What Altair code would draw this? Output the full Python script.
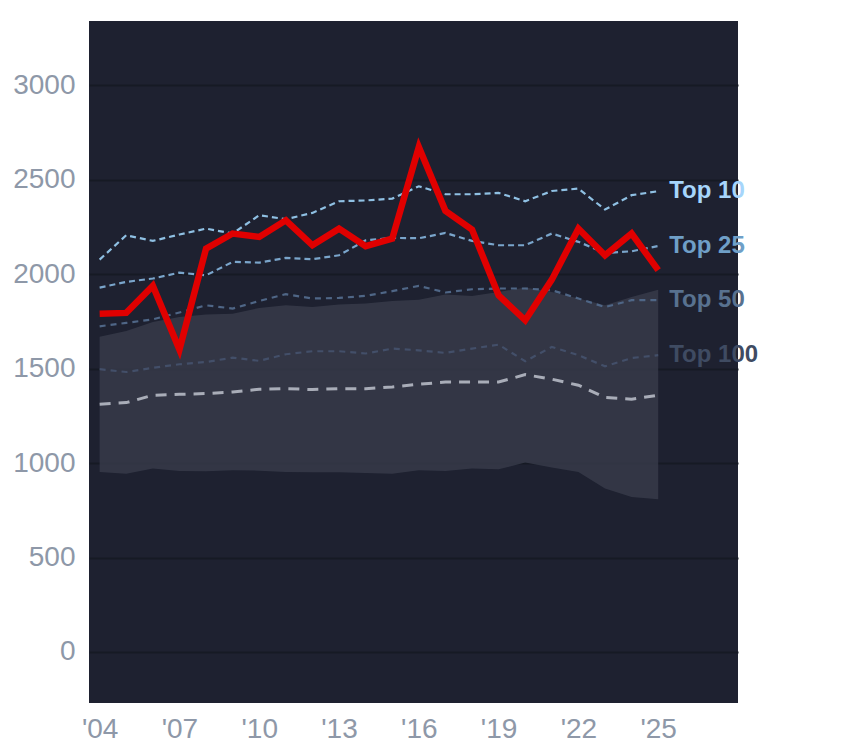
import altair as alt
import pandas as pd

years = list(range(2004, 2026))

team = [1791, 1795, 1938, 1601, 2135, 2215, 2197, 2285, 2153, 2241, 2148, 2188,
        2673, 2335, 2236, 1888, 1756, 1971, 2241, 2100, 2215, 2021]
top10 = [2077, 2206, 2176, 2210, 2241, 2215, 2312, 2291, 2324, 2386, 2390, 2400,
         2465, 2423, 2423, 2430, 2386, 2440, 2453, 2342, 2418, 2439]
top25 = [1929, 1959, 1977, 2008, 1994, 2065, 2061, 2086, 2079, 2100, 2179, 2192,
         2190, 2218, 2176, 2153, 2153, 2215, 2171, 2112, 2121, 2149]
top50 = [1724, 1742, 1761, 1797, 1835, 1818, 1858, 1894, 1871, 1874, 1885, 1910,
         1938, 1903, 1920, 1924, 1924, 1915, 1871, 1826, 1862, 1862]
top100 = [1497, 1482, 1504, 1523, 1535, 1558, 1541, 1576, 1592, 1592, 1580, 1606,
          1597, 1583, 1606, 1627, 1539, 1615, 1571, 1512, 1556, 1571]
median = [1311, 1320, 1359, 1364, 1368, 1376, 1391, 1394, 1389, 1394, 1394, 1403,
          1417, 1429, 1429, 1429, 1468, 1444, 1412, 1347, 1338, 1359]
band_high = [1668, 1699, 1747, 1773, 1786, 1791, 1821, 1835, 1826, 1839, 1844, 1858,
             1865, 1892, 1885, 1906, 1929, 1906, 1871, 1835, 1879, 1918]
band_low = [953, 944, 971, 958, 957, 962, 960, 953, 951, 951, 948, 944,
            962, 958, 971, 967, 1003, 976, 953, 865, 821, 808]

label_names = ["Top 10", "Top 25", "Top 50", "Top 100"]
label_values = [top10[-1], top25[-1], top50[-1], top100[-1]]
label_colors = ["#a6d5fb", "#6f9fc7", "#58718f", "#3f4b62"]
x_ticks = [2004, 2007, 2010, 2013, 2016, 2019, 2022, 2025]
y_ticks = [0, 500, 1000, 1500, 2000, 2500, 3000]

FONT = "Liberation Sans"
AXIS_GREY = "#8e98a8"

df = pd.DataFrame({
    "year": years, "team": team, "top10": top10, "top25": top25,
    "top50": top50, "top100": top100, "median": median,
    "hi": band_high, "lo": band_low,
})
lab = pd.DataFrame({"name": label_names, "value": label_values,
                    "year": [years[-1]] * 4, "color": label_colors})

xscale = alt.Scale(domain=[2003.6, 2028], nice=False, zero=False)
yscale = alt.Scale(domain=[-270, 3340], nice=False, zero=False)

xaxis = alt.Axis(
    values=x_ticks, labelExpr="\"'\" + substring(toString(datum.value), 2)",
    grid=False, domain=False, ticks=False, tickSize=0, labelPadding=12,
    labelFontSize=28, labelColor=AXIS_GREY, labelFont=FONT, title=None)
yaxis = alt.Axis(
    values=y_ticks, format="d", grid=True, gridColor="#161a24", gridWidth=2,
    domain=False, ticks=False, tickSize=0, labelPadding=14,
    labelFontSize=28, labelColor=AXIS_GREY, labelFont=FONT, title=None)

def xenc():
    return alt.X("year:Q", scale=xscale, axis=xaxis)

def yenc(field):
    return alt.Y(f"{field}:Q", scale=yscale, axis=yaxis)

base = alt.Chart(df)

band = base.mark_area(color="#383c4b", opacity=0.8).encode(
    x=xenc(), y=yenc("hi"), y2="lo:Q")

def dashed(field, color, dash, width):
    return base.mark_line(color=color, strokeDash=dash, strokeWidth=width).encode(
        x=xenc(), y=yenc(field))

l_median = dashed("median", "#a9adb8", [11, 8], 3)
l100 = dashed("top100", "#434f69", [6, 5], 2.2)
l50 = dashed("top50", "#4f6686", [6, 5], 2.2)
l25 = dashed("top25", "#7aa5cb", [6, 4], 2.2)
l10 = dashed("top10", "#8fc0e3", [6, 4], 2.2)

red = base.mark_line(color="#e00000", strokeWidth=6.5, strokeJoin="miter").encode(
    x=xenc(), y=yenc("team"))

labels = alt.Chart(lab).mark_text(
    align="left", baseline="middle", dx=11, fontSize=24, fontWeight="bold",
    font=FONT).encode(
    x=xenc(),
    y=yenc("value"),
    text="name:N",
    color=alt.Color("color:N", scale=None))

chart = alt.layer(band, l_median, l100, l50, l25, l10, red, labels).properties(
    width=649, height=682,
    padding={"left": 4, "top": 13, "right": 5, "bottom": 5},
    background="white",
).configure_view(fill="#1e2130", stroke=None)

chart.save("out.html", embed_options={"renderer": "svg", "actions": False})
